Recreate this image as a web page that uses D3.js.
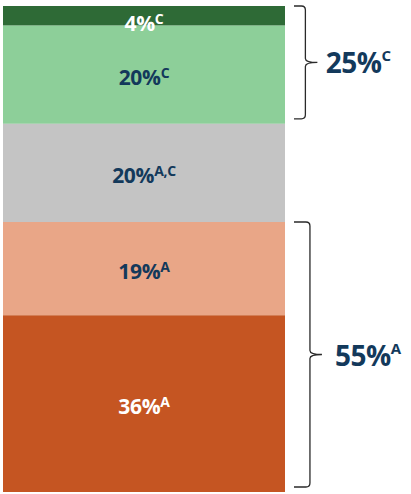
<!DOCTYPE html>
<html>
<head>
<meta charset="utf-8">
<script src="https://cdn.jsdelivr.net/npm/d3@7"></script>
<style>
  html, body { margin: 0; padding: 0; background: #ffffff; }
  svg { display: block; }
  text { font-family: "Open Sans", Lato, sans-serif; font-weight: 700; }
</style>
</head>
<body>
<svg id="chart" width="411" height="494"></svg>
<script>
// Stacked share segments, top to bottom
const segments = ["Strongly agree", "Agree", "Neutral", "Disagree", "Strongly disagree"];
const values = [4, 20, 20, 19, 36];
const marks = ["C", "C", "A,C", "A", "A"];
const fills = ["#2e6a36", "#8dcf99", "#c4c4c4", "#e9a687", "#c55522"];
const labelColors = ["#ffffff", "#13395b", "#13395b", "#13395b", "#ffffff"];

// Grouped totals shown with braces
const groupLabels = ["25%", "55%"];
const groupMarks = ["C", "A"];
const groupStart = [0, 3];   // first segment index in group
const groupEnd = [1, 4];     // last segment index in group

const svg = d3.select("#chart");
const total = d3.sum(values);

const y = d3.scaleLinear().domain([0, total]).range([6, 492]);
const x = d3.scaleBand().domain(["all"]).range([3, 285]).padding(0);

const stacked = [];
let acc = 0;
values.forEach((v, i) => { stacked.push({ i, v, y0: acc, y1: acc + v }); acc += v; });

svg.append("g").selectAll("rect")
  .data(stacked)
  .join("rect")
  .attr("x", x("all"))
  .attr("width", x.bandwidth())
  .attr("y", d => y(d.y0))
  .attr("height", d => y(d.y1) - y(d.y0))
  .attr("fill", d => fills[d.i]);

// Segment labels with superscript significance marks
const cx = x("all") + x.bandwidth() / 2;
const lbl = svg.append("g").selectAll("text")
  .data(stacked)
  .join("text")
  .attr("x", cx)
  .attr("y", d => Math.max((y(d.y0) + y(d.y1)) / 2 + 10, y(d.y0) + 25))
  .attr("text-anchor", "middle")
  .attr("fill", d => labelColors[d.i])
  .style("font-size", "21px")
  .style("letter-spacing", "-0.3px");
lbl.append("tspan").text(d => d.v + "%");
lbl.append("tspan")
  .attr("dy", -7)
  .style("font-size", "14px")
  .text(d => marks[d.i]);

// Curly braces with group totals
const hookX = 294;
groupLabels.forEach((g, k) => {
  const a = y(stacked[groupStart[k]].y0);
  const b = y(stacked[groupEnd[k]].y1) - 5;
  const h = b - a;
  const depth = 8 + h * 0.03;
  const vx = hookX + depth;
  const tip = 12;
  const r = 4;
  const m = (a + b) / 2;
  const p = d3.path();
  p.moveTo(hookX, a);
  p.lineTo(vx - r, a);
  p.quadraticCurveTo(vx, a, vx, a + r);
  p.lineTo(vx, m - r);
  p.quadraticCurveTo(vx, m, vx + tip, m);
  p.quadraticCurveTo(vx, m, vx, m + r);
  p.lineTo(vx, b - r);
  p.quadraticCurveTo(vx, b, vx - r, b);
  p.lineTo(hookX, b);
  svg.append("path")
    .attr("d", p.toString())
    .attr("fill", "none")
    .attr("stroke", "#2a2a2a")
    .attr("stroke-width", 1.3);

  const t = svg.append("text")
    .attr("x", vx + tip + depth - 3)
    .attr("y", m + 11)
    .attr("fill", "#13395b")
    .style("font-size", "28px")
    .style("letter-spacing", "-0.5px");
  t.append("tspan").text(g);
  t.append("tspan")
    .attr("dy", -12)
    .style("font-size", "15px")
    .text(groupMarks[k]);
});
</script>
</body>
</html>
